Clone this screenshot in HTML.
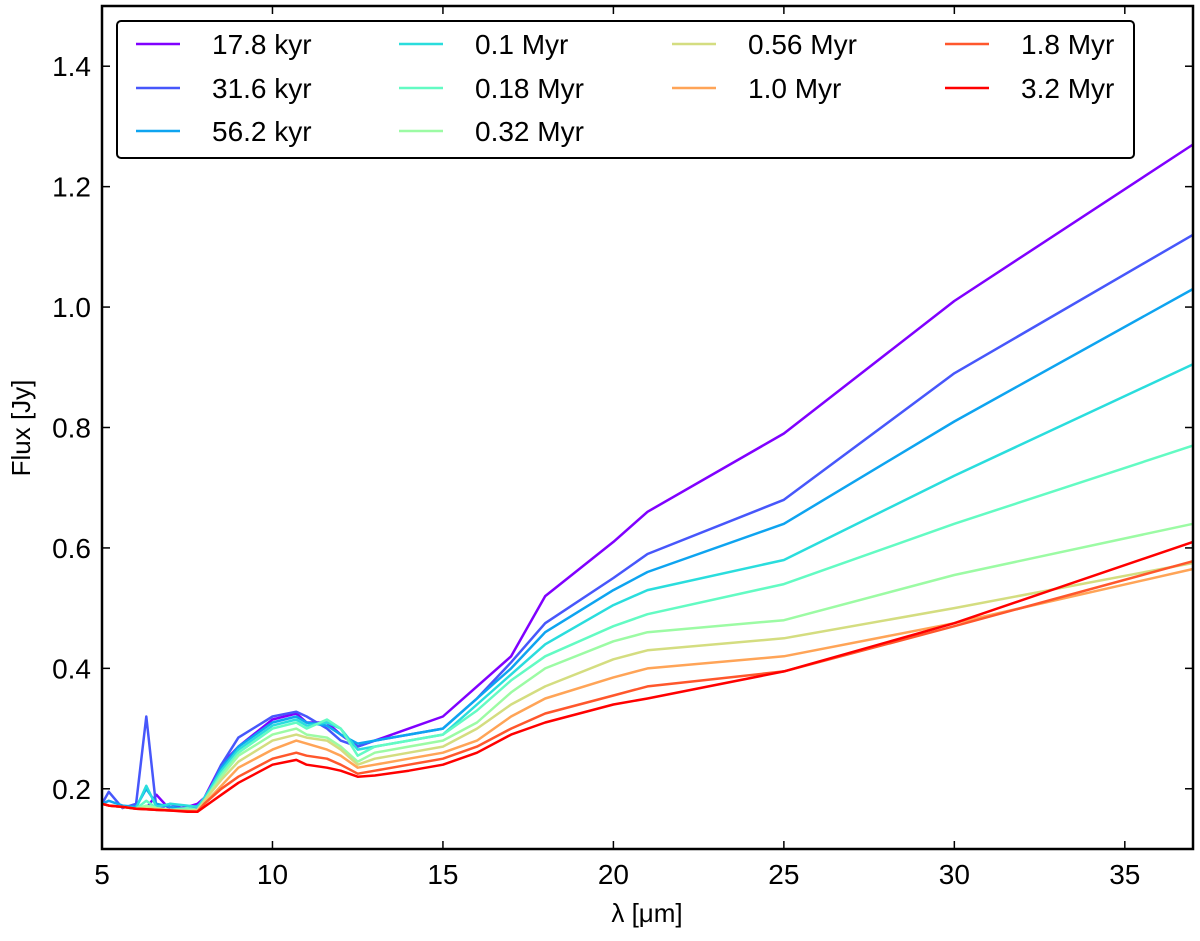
<!DOCTYPE html>
<html><head><meta charset="utf-8"><style>
body{margin:0;background:#fff;}
svg text{font-family:"Liberation Sans","DejaVu Sans",sans-serif;fill:#000;}
</style></head><body>
<svg id="chart" width="1200" height="936" xmlns="http://www.w3.org/2000/svg">
<g id="series"></g>
<rect x="102" y="6" width="1091" height="843" fill="none" stroke="#000" stroke-width="2.5"/>
<g id="axes"></g>
<text x="647" y="922" font-size="26" text-anchor="middle">λ [μm]</text>
<text transform="translate(30,428) rotate(-90)" font-size="26" text-anchor="middle">Flux [Jy]</text>
<g id="legend"></g>
</svg>
<script>
const wavelengths=[5,5.2,5.6,6,6.3,6.6,7,7.5,7.8,8,8.5,9,10,10.7,11,11.6,12,12.5,13,14,15,16,17,18,20,21,25,30,37];
const labels=["17.8 kyr","31.6 kyr","56.2 kyr","0.1 Myr","0.18 Myr","0.32 Myr","0.56 Myr","1.0 Myr","1.8 Myr","3.2 Myr"];
const colors=["#8000ff","#4757fb","#0ea4f0","#2adddd","#63fbc3","#9cfba4","#d4dd80","#ffa457","#ff572c","#ff0000"];
const s0=[.175,.172,.17,.168,.168,.19,.165,.17,.175,.185,.24,.27,.315,.325,.31,.31,.29,.27,.28,.30,.32,.37,.42,.52,.61,.66,.79,1.01,1.27];
const s1=[.175,.195,.168,.175,.32,.165,.175,.165,.17,.18,.24,.285,.32,.328,.32,.30,.28,.27,.28,.29,.30,.35,.41,.475,.55,.59,.68,.89,1.12];
const s2=[.175,.18,.172,.17,.2,.175,.17,.165,.172,.18,.235,.27,.31,.32,.31,.305,.29,.275,.28,.29,.30,.35,.40,.46,.53,.56,.64,.81,1.03];
const s3=[.175,.172,.17,.168,.205,.17,.175,.172,.17,.185,.23,.265,.305,.315,.305,.31,.30,.265,.27,.28,.29,.34,.39,.44,.505,.53,.58,.72,.905];
const s4=[.175,.172,.17,.167,.18,.168,.165,.168,.165,.18,.225,.26,.30,.31,.30,.315,.30,.255,.27,.28,.29,.33,.38,.42,.47,.49,.54,.64,.77];
const s5=[.175,.172,.17,.167,.172,.168,.165,.165,.165,.18,.22,.255,.29,.30,.29,.285,.27,.245,.26,.27,.28,.31,.36,.40,.445,.46,.48,.555,.64];
const s6=[.175,.172,.17,.167,.168,.167,.165,.163,.165,.18,.215,.245,.28,.29,.285,.28,.265,.24,.25,.26,.27,.30,.34,.37,.415,.43,.45,.50,.575];
const s7=[.175,.172,.17,.167,.166,.165,.164,.163,.163,.175,.205,.235,.265,.28,.275,.265,.255,.235,.24,.25,.26,.28,.32,.35,.385,.40,.42,.475,.565];
const s8=[.175,.172,.17,.167,.166,.165,.164,.163,.162,.175,.2,.22,.25,.26,.255,.25,.24,.225,.23,.24,.25,.27,.30,.325,.355,.37,.395,.47,.578];
const s9=[.175,.172,.17,.167,.166,.165,.164,.162,.162,.17,.19,.21,.24,.248,.24,.235,.23,.22,.222,.23,.24,.26,.29,.31,.34,.35,.395,.475,.61];
const seriesList=[s0,s1,s2,s3,s4,s5,s6,s7,s8,s9];
const xTicks=[5,10,15,20,25,30,35];
const yTicks=[0.2,0.4,0.6,0.8,1.0,1.2,1.4];
const NS="http://www.w3.org/2000/svg";
function X(v){return 102+(v-5)*(1091/32);}
function Y(v){return 849-(v-0.1)*(843/1.4);}
const sg=document.getElementById('series');
seriesList.forEach((s,i)=>{
  const p=document.createElementNS(NS,'polyline');
  p.setAttribute('points',s.map((v,j)=>X(wavelengths[j]).toFixed(1)+','+Y(v).toFixed(1)).join(' '));
  p.setAttribute('fill','none');p.setAttribute('stroke',colors[i]);p.setAttribute('stroke-width','2.5');p.setAttribute('stroke-linejoin','round');
  
  
  sg.appendChild(p);
});
const ax=document.getElementById('axes');
xTicks.forEach(t=>{
  const x=X(t);
  [[849,841],[6,14]].forEach(([a,b])=>{const l=document.createElementNS(NS,'line');l.setAttribute('x1',x);l.setAttribute('x2',x);l.setAttribute('y1',a);l.setAttribute('y2',b);l.setAttribute('stroke','#000');l.setAttribute('stroke-width','1.5');
  
  
  ax.appendChild(l);});
  const tx=document.createElementNS(NS,'text');tx.setAttribute('x',x);tx.setAttribute('y',884);tx.setAttribute('font-size','28');tx.setAttribute('text-anchor','middle');tx.textContent=t;
  
  
  ax.appendChild(tx);
});
yTicks.forEach(t=>{
  const y=Y(t);
  [[102,110],[1193,1185]].forEach(([a,b])=>{const l=document.createElementNS(NS,'line');l.setAttribute('x1',a);l.setAttribute('x2',b);l.setAttribute('y1',y);l.setAttribute('y2',y);l.setAttribute('stroke','#000');l.setAttribute('stroke-width','1.5');
  
  
  ax.appendChild(l);});
  const tx=document.createElementNS(NS,'text');tx.setAttribute('x',91);tx.setAttribute('y',y+10);tx.setAttribute('font-size','28');tx.setAttribute('text-anchor','end');tx.textContent=t.toFixed(1);
  
  
  ax.appendChild(tx);
});
const lg=document.getElementById('legend');
const box=document.createElementNS(NS,'rect');
box.setAttribute('x',117);box.setAttribute('y',21);box.setAttribute('width',1017);box.setAttribute('height',137);box.setAttribute('rx',4);box.setAttribute('fill','#fff');box.setAttribute('stroke','#000');box.setAttribute('stroke-width','2');


lg.appendChild(box);
const colX=[136,399,672,945];
const colOf=[0,0,0,1,1,1,2,2,3,3];
const rowOf=[0,1,2,0,1,2,0,1,0,1];
const rowY=[44,88,131];
labels.forEach((lab,i)=>{
  const c=colOf[i], y=rowY[rowOf[i]];
  const g=document.createElementNS(NS,'g');
  
  
  const l=document.createElementNS(NS,'line');l.setAttribute('x1',colX[c]);l.setAttribute('x2',colX[c]+44);l.setAttribute('y1',y);l.setAttribute('y2',y);l.setAttribute('stroke',colors[i]);l.setAttribute('stroke-width','2.5');
  g.appendChild(l);
  const t=document.createElementNS(NS,'text');t.setAttribute('x',colX[c]+76);t.setAttribute('y',y+10);t.setAttribute('font-size','28');t.textContent=lab;
  g.appendChild(t);
  lg.appendChild(g);
});
</script>
</body></html>
